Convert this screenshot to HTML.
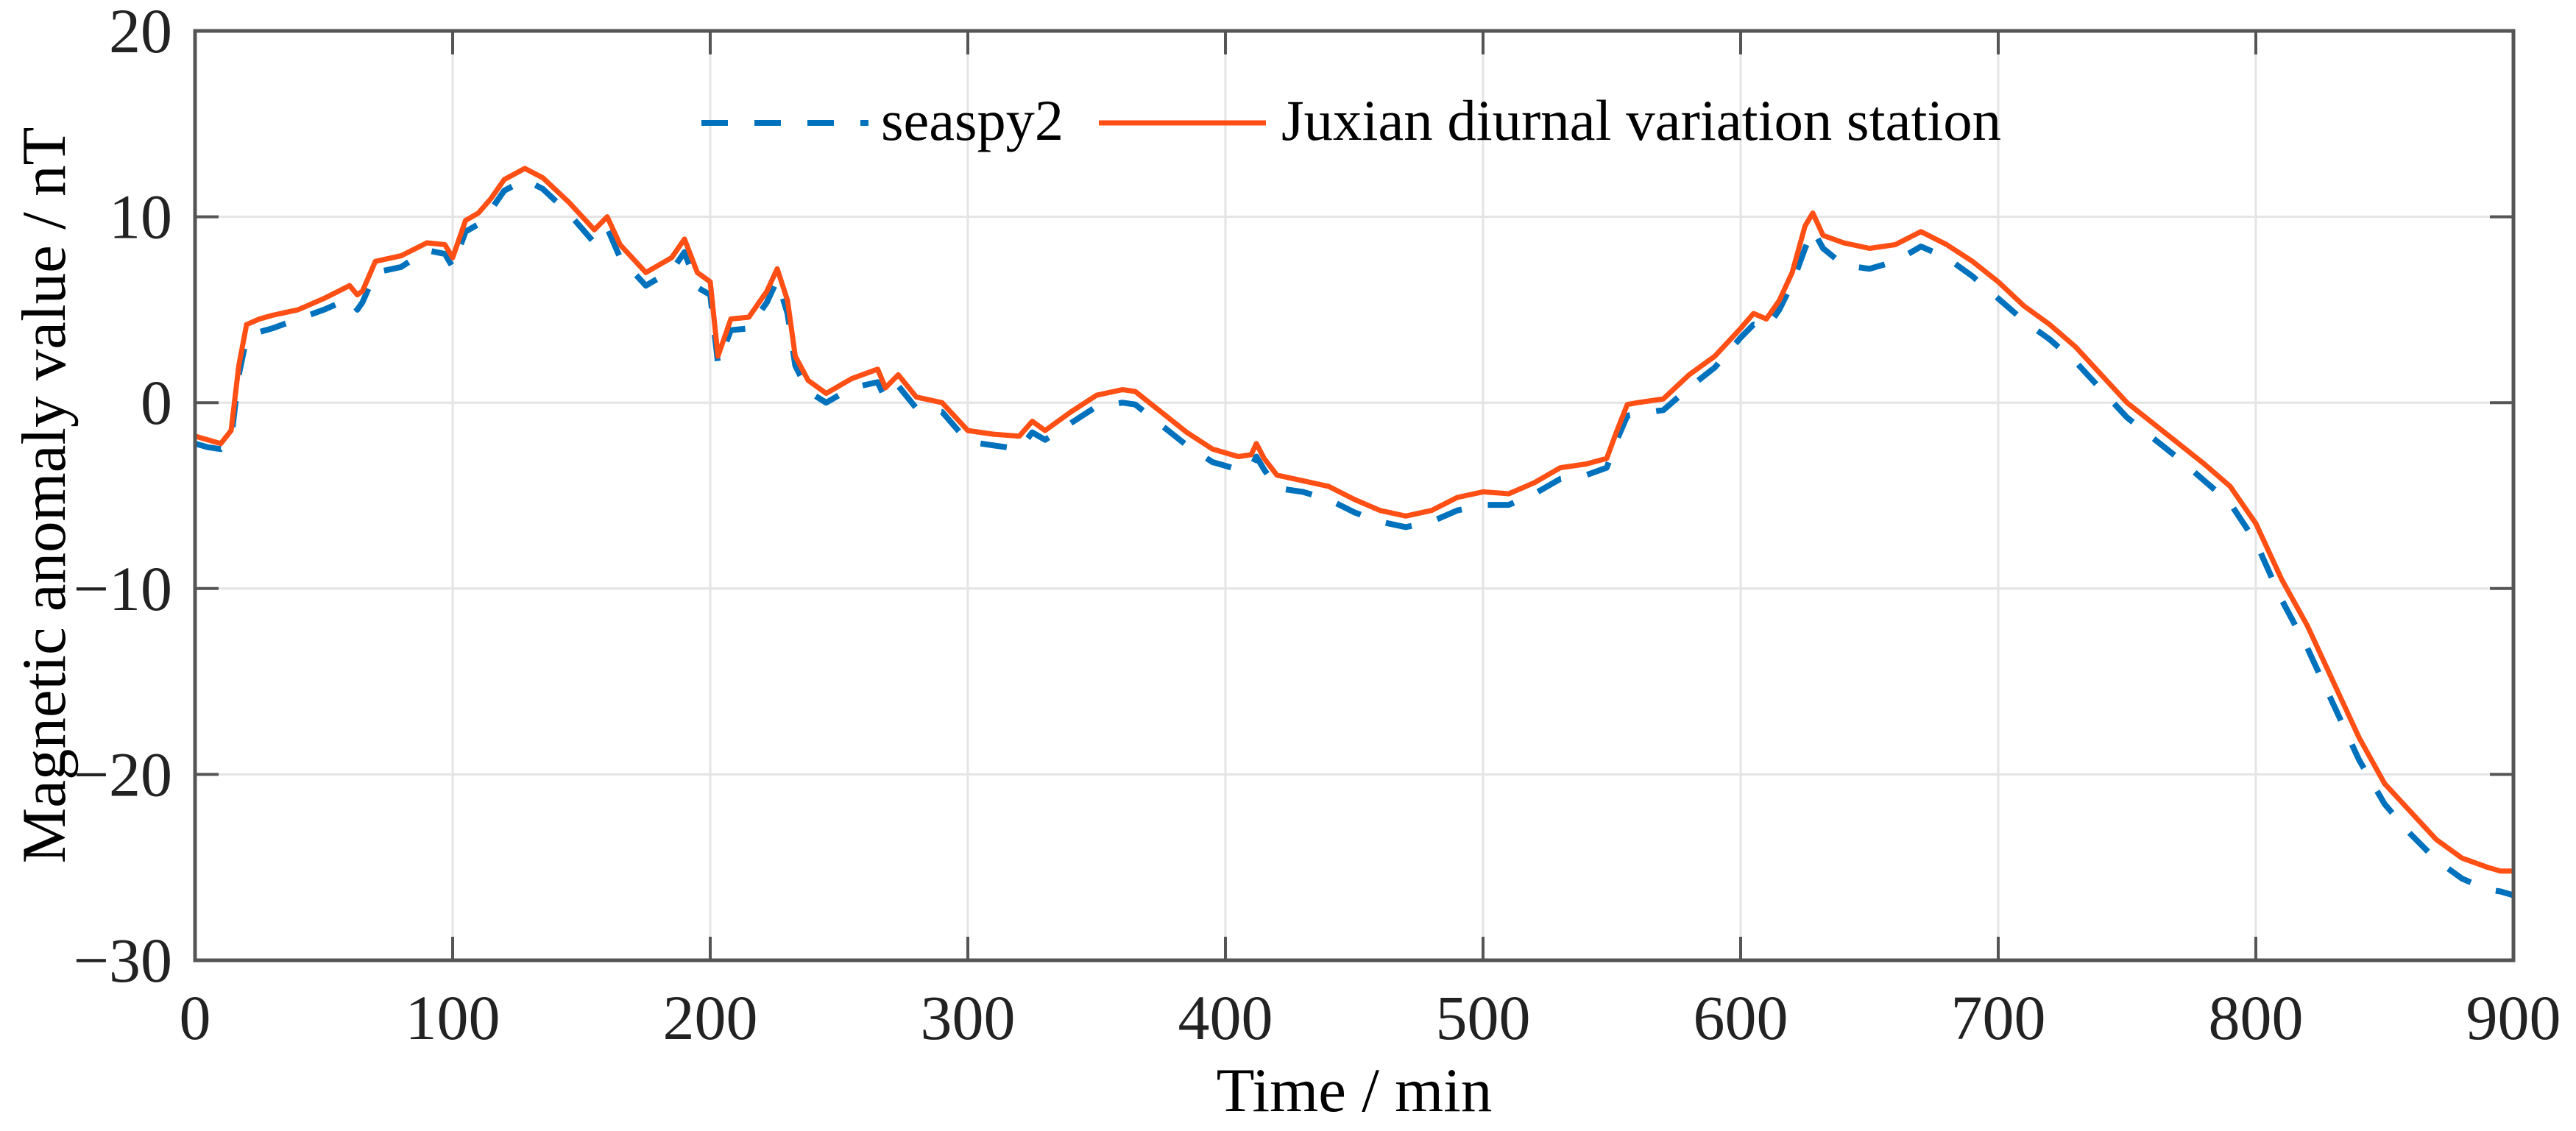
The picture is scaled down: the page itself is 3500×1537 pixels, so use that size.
<!DOCTYPE html>
<html><head><meta charset="utf-8"><style>
html,body{margin:0;padding:0;background:#fff;}
svg{display:block;font-family:"Liberation Serif",serif;}
</style></head><body>
<svg id="chart" width="3500" height="1537" viewBox="0 0 3500 1537" xmlns="http://www.w3.org/2000/svg">
<g id="grid"></g>
<g id="series"></g>
<g id="axes"></g>
<g id="legend">
  <line x1="953" y1="167" x2="1180" y2="167" stroke="#0072BD" stroke-width="8" stroke-dasharray="36 36"/>
  <text x="1197" y="190" font-size="78" textLength="248" lengthAdjust="spacingAndGlyphs">seaspy2</text>
  <line x1="1493" y1="167" x2="1720" y2="167" stroke="#FF4F14" stroke-width="7"/>
  <text x="1741" y="190" font-size="78" textLength="978" lengthAdjust="spacingAndGlyphs">Juxian diurnal variation station</text>
</g>
<text x="1840" y="1510" font-size="85" text-anchor="middle">Time / min</text>
<text transform="translate(88,673) rotate(-90)" font-size="85" text-anchor="middle">Magnetic anomaly value / nT</text>
</svg>
<script>
const times = [0,5,10,14,17,20,25,30,40,50,60,63,65,70,80,90,97,100,105,110,115,120,128,135,145,155,160,165,175,185,190,195,200,203,208,215,222,226,230,233,238,245,255,265,268,273,280,290,300,310,320,325,330,340,350,360,365,375,385,395,405,410,412,415,420,430,440,450,460,470,480,490,500,510,520,530,540,548,552,556,560,570,580,590,600,605,610,615,620,625,628,632,640,650,660,670,680,690,700,710,720,730,740,750,760,770,780,790,800,810,820,830,840,850,860,870,880,890,895,900];
const juxianValues = [-1.8,-2.0,-2.2,-1.5,2.0,4.2,4.5,4.7,5.0,5.6,6.3,5.8,6.0,7.6,7.9,8.6,8.5,7.8,9.8,10.2,11.0,12.0,12.6,12.1,10.8,9.3,10.0,8.5,7.0,7.8,8.8,7.0,6.5,2.5,4.5,4.6,6.0,7.2,5.5,2.5,1.2,0.5,1.3,1.8,0.8,1.5,0.3,0.0,-1.5,-1.7,-1.8,-1.0,-1.5,-0.5,0.4,0.7,0.6,-0.5,-1.6,-2.5,-2.9,-2.8,-2.2,-3.0,-3.9,-4.2,-4.5,-5.2,-5.8,-6.1,-5.8,-5.1,-4.8,-4.9,-4.3,-3.5,-3.3,-3.0,-1.5,-0.1,0.0,0.2,1.5,2.5,4.0,4.8,4.5,5.5,7.0,9.5,10.2,9.0,8.6,8.3,8.5,9.2,8.5,7.6,6.5,5.2,4.2,3.0,1.5,0.0,-1.1,-2.2,-3.3,-4.5,-6.5,-9.5,-12.0,-15.0,-18.0,-20.5,-22.0,-23.5,-24.5,-25.0,-25.2,-25.2];
const seaspyValues = [-2.2,-2.4,-2.5,-2.0,1.5,3.5,3.8,4.0,4.5,5.0,5.6,5.0,5.4,7.0,7.3,8.2,8.0,7.3,9.2,9.6,10.4,11.4,12.0,11.5,10.2,8.6,9.4,7.8,6.3,7.1,8.1,6.2,5.8,2.1,3.9,4.0,5.4,6.6,4.8,2.0,0.6,0.0,0.8,1.1,0.2,0.9,-0.3,-0.5,-2.1,-2.3,-2.5,-1.6,-2.0,-1.1,-0.2,0.0,-0.1,-1.2,-2.3,-3.2,-3.6,-3.5,-2.9,-3.6,-4.6,-4.8,-5.2,-5.9,-6.4,-6.7,-6.4,-5.8,-5.5,-5.5,-4.9,-4.1,-3.9,-3.5,-2.0,-0.7,-0.6,-0.4,0.8,1.9,3.5,4.2,4.0,5.0,6.4,8.3,9.3,8.3,7.4,7.2,7.6,8.4,7.8,6.8,5.6,4.4,3.4,2.2,0.7,-0.8,-1.9,-3.0,-4.2,-5.4,-7.5,-10.6,-13.2,-16.2,-19.2,-21.6,-23.2,-24.6,-25.6,-26.2,-26.3,-26.5];
const xTicks = [0,100,200,300,400,500,600,700,800,900];
const yTicks = [-30,-20,-10,0,10,20];

const L=265,R=3415,T=42,B=1305;
const xs=v=>L+(v-0)/(900-0)*(R-L);
const ys=v=>B-(v+30)/(50)*(B-T);
const NS="http://www.w3.org/2000/svg";
function mk(tag,attrs,parent){const e=document.createElementNS(NS,tag);for(const k in attrs)e.setAttribute(k,attrs[k]);parent.appendChild(e);return e;}
const grid=document.getElementById('grid'),axes=document.getElementById('axes'),series=document.getElementById('series');

xTicks.forEach(t=>{
  const x=xs(t);
  const g=mk('line',{x1:x,y1:T,x2:x,y2:B,stroke:'#e4e4e4','stroke-width':3},grid);
  
  
  const tb=mk('line',{x1:x,y1:B,x2:x,y2:B-32,stroke:'#555','stroke-width':4},axes);
  
  
  const tt=mk('line',{x1:x,y1:T,x2:x,y2:T+32,stroke:'#555','stroke-width':4},axes);
  
  
  const lb=mk('text',{x:x,y:1412,'font-size':86,'text-anchor':'middle',fill:'#222'},axes);
  lb.textContent=String(t);
  
  
});
yTicks.forEach(t=>{
  const y=ys(t);
  const g=mk('line',{x1:L,y1:y,x2:R,y2:y,stroke:'#e4e4e4','stroke-width':3},grid);
  
  
  const tl=mk('line',{x1:L,y1:y,x2:L+32,y2:y,stroke:'#555','stroke-width':4},axes);
  
  
  const tr=mk('line',{x1:R,y1:y,x2:R-32,y2:y,stroke:'#555','stroke-width':4},axes);
  
  
  const lb=mk('text',{x:234,y:y+29,'font-size':86,'text-anchor':'end',fill:'#222'},axes);
  lb.textContent=(t<0?'\u2212'+Math.abs(t):String(t));
  
  
});
const box=mk('rect',{x:L,y:T,width:R-L,height:B-T,fill:'none',stroke:'#555','stroke-width':5},axes);



function path(vals){return vals.map((v,i)=>(i?'L':'M')+xs(times[i]).toFixed(1)+' '+ys(v).toFixed(1)).join(' ');}
const sb=mk('path',{d:path(seaspyValues),fill:'none',stroke:'#0072BD','stroke-width':8,'stroke-dasharray':'36 36','stroke-linejoin':'round'},series);


const sr=mk('path',{d:path(juxianValues),fill:'none',stroke:'#FF4F14','stroke-width':7,'stroke-linejoin':'round'},series);


</script>
</body></html>
